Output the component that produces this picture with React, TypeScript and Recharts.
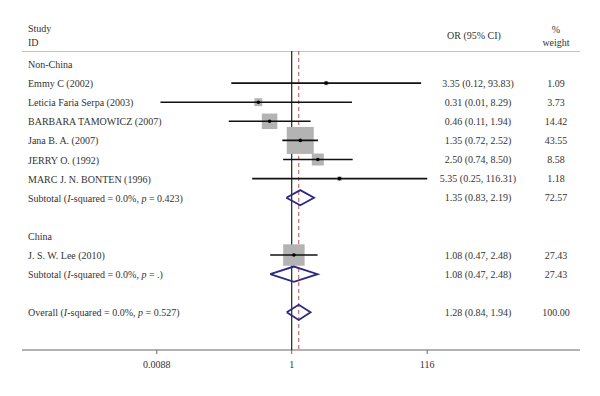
import {
  ComposedChart, Scatter, XAxis, YAxis,
} from 'recharts'

// study-level data
const studyNames = [
  'Emmy C (2002)',
  'Leticia Faria Serpa (2003)',
  'BARBARA TAMOWICZ (2007)',
  'Jana B. A. (2007)',
  'JERRY O. (1992)',
  'MARC J. N. BONTEN (1996)',
  'J. S. W. Lee (2010)',
]
const studyRows = [1, 2, 3, 4, 5, 6, 10]
const studyOR = [3.35, 0.31, 0.46, 1.35, 2.5, 5.35, 1.08]
const studyLow = [0.12, 0.01, 0.11, 0.72, 0.74, 0.25, 0.47]
const studyHigh = [93.83, 8.29, 1.94, 2.52, 8.5, 116.31, 2.48]
const studyWeight = ['1.09', '3.73', '14.42', '43.55', '8.58', '1.18', '27.43']

// pooled estimates (subtotals + overall)
const poolNames = [
  'Subtotal (*I*-squared = 0.0%, *p* = 0.423)',
  'Subtotal (*I*-squared = 0.0%, *p* = .)',
  'Overall (*I*-squared = 0.0%, *p* = 0.527)',
]
const poolRows = [7, 11, 13]
const poolOR = [1.35, 1.08, 1.28]
const poolLow = [0.83, 0.47, 0.84]
const poolHigh = [2.19, 2.48, 1.94]
const poolWeight = ['72.57', '27.43', '100.00']

const groupNames = ['Non-China', 'China']
const groupRows = [0, 9]

const xTicks = [0.0088, 1, 116]
const xTickLabels = ['0.0088', '1', '116']
const overallOR = poolOR[2]

const FONT = '"Liberation Serif", "Times New Roman", serif'
const TEXT = '#333'
const FS = 10
const X_DOMAIN = [7.76e-5, 24750]
const Y_DOMAIN = [-0.68, 14.97]
const ROW_PX = 19.1

const fmt = (v: number) => v.toFixed(2)

const tableRows = [
  ...groupNames.map((n, i) => ({ x: 1, y: groupRows[i], label: n, ci: '', wt: '' })),
  ...studyNames.map((n, i) => ({
    x: 1, y: studyRows[i], label: n,
    ci: `${fmt(studyOR[i])} (${fmt(studyLow[i])}, ${fmt(studyHigh[i])})`,
    wt: studyWeight[i],
  })),
  ...poolNames.map((n, i) => ({
    x: 1, y: poolRows[i], label: n,
    ci: `${fmt(poolOR[i])} (${fmt(poolLow[i])}, ${fmt(poolHigh[i])})`,
    wt: poolWeight[i],
  })),
]

const squares = studyNames.map((_, i) => ({ x: studyOR[i], y: studyRows[i], w: parseFloat(studyWeight[i]) }))

function Rich({ s }: { s: string }) {
  return (
    <>
      {s.split('*').map((part, i) => (
        <tspan key={i} fontStyle={i % 2 ? 'italic' : 'normal'}>{part}</tspan>
      ))}
    </>
  )
}

function RowText(props: any) {
  const { cy, payload } = props
  return (
    <g fontFamily={FONT} fontSize={FS} fill={TEXT}>
      <text x={28} y={cy} dominantBaseline="central"><Rich s={payload.label} /></text>
      {payload.ci && <text x={478} y={cy} textAnchor="middle" dominantBaseline="central">{payload.ci}</text>}
      {payload.wt && <text x={556} y={cy} textAnchor="middle" dominantBaseline="central">{payload.wt}</text>}
    </g>
  )
}

function WeightBox(props: any) {
  const { cx, cy, payload } = props
  const s = 27 * Math.sqrt(payload.w / 43.55)
  return <rect x={cx - s / 2} y={cy - s / 2} width={s} height={s} fill="#b3b3b3" />
}

function Dot(props: any) {
  const { cx, cy } = props
  return <circle cx={cx} cy={cy} r={1.8} fill="#000" />
}

const Nothing = () => <g />

const DIAMOND_H = 7.6 / ROW_PX

export default function App() {
  return (
    <div style={{ width: 600, height: 396, background: '#fff' }}>
      <style>{'body{margin:0}'}</style>
      <ComposedChart
        width={600}
        height={396}
        margin={{ top: 51, right: 20, bottom: 16, left: 22 }}
      >
        <XAxis
          type="number"
          dataKey="x"
          scale="log"
          domain={X_DOMAIN}
          allowDataOverflow
          ticks={xTicks}
          tickFormatter={(v: number) => xTickLabels[xTicks.indexOf(v)] ?? String(v)}
          tick={{ fontSize: FS, fill: TEXT, fontFamily: FONT, dy: 5 }}
          tickSize={4}
          height={30}
          axisLine={{ stroke: '#666' }}
          tickLine={{ stroke: '#666' }}
          interval={0}
        />
        <YAxis type="number" dataKey="y" hide reversed domain={Y_DOMAIN} allowDataOverflow />

        {/* header rule across the top of the plot */}
        <Scatter
          data={[{ x: X_DOMAIN[0], y: Y_DOMAIN[0] }, { x: X_DOMAIN[1], y: Y_DOMAIN[0] }]}
          line={{ stroke: '#8a8a8a', strokeWidth: 1.2 }}
          shape={Nothing}
          isAnimationActive={false}
        />
        {/* null line and overall-effect line */}
        <Scatter
          data={[{ x: 1, y: Y_DOMAIN[0] }, { x: 1, y: Y_DOMAIN[1] }]}
          line={{ stroke: '#222', strokeWidth: 1.2 }}
          shape={Nothing}
          isAnimationActive={false}
        />
        <Scatter
          data={[{ x: overallOR, y: Y_DOMAIN[0] }, { x: overallOR, y: Y_DOMAIN[1] }]}
          line={{ stroke: '#c0504d', strokeWidth: 1, strokeDasharray: '4 3' }}
          shape={Nothing}
          isAnimationActive={false}
        />

        <Scatter data={squares} shape={WeightBox} isAnimationActive={false} />

        {studyNames.map((n, i) => (
          <Scatter
            key={n}
            data={[{ x: studyLow[i], y: studyRows[i] }, { x: studyHigh[i], y: studyRows[i] }]}
            line={{ stroke: '#111', strokeWidth: 1.6 }}
            shape={Nothing}
            isAnimationActive={false}
          />
        ))}

        <Scatter data={squares} shape={Dot} isAnimationActive={false} />

        {poolNames.map((n, i) => (
          <Scatter
            key={n}
            data={[
              { x: poolLow[i], y: poolRows[i] },
              { x: poolOR[i], y: poolRows[i] - DIAMOND_H },
              { x: poolHigh[i], y: poolRows[i] },
              { x: poolOR[i], y: poolRows[i] + DIAMOND_H },
              { x: poolLow[i], y: poolRows[i] },
            ]}
            line={{ stroke: '#2a2a85', strokeWidth: 1.8 }}
            shape={Nothing}
            isAnimationActive={false}
          />
        ))}

        <Scatter data={tableRows} shape={RowText} isAnimationActive={false} />

        <g fontFamily={FONT} fontSize={FS} fill={TEXT}>
          <text x={28} y={28} dominantBaseline="central">Study</text>
          <text x={28} y={42} dominantBaseline="central">ID</text>
          <text x={474} y={35} textAnchor="middle" dominantBaseline="central">OR (95% CI)</text>
          <text x={556} y={29} textAnchor="middle" dominantBaseline="central">%</text>
          <text x={556} y={42} textAnchor="middle" dominantBaseline="central">weight</text>
        </g>
      </ComposedChart>
    </div>
  )
}
